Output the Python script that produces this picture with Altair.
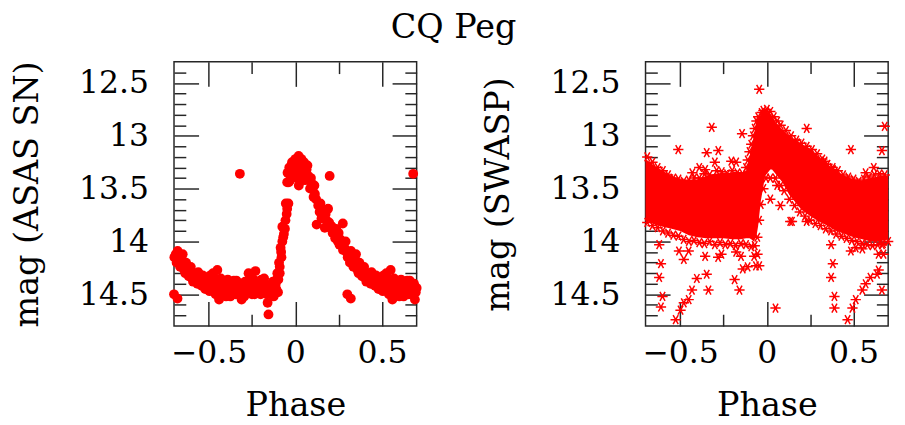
import altair as alt
import pandas as pd

FONT = "DejaVu Serif"
RED = "#ff0000"
INK = "#262626"
W, H = 247, 269
XDOM = [-0.7, 0.7]
YDOM = [12.3, 14.8]

x_major = [-0.5, 0.0, 0.5]
x_minor = [-0.25, 0.25]
y_major = [12.5, 13.0, 13.5, 14.0, 14.5]
y_minor = [12.4, 12.6, 12.7, 12.8, 12.9, 13.1, 13.2, 13.3, 13.4, 13.6, 13.7,
           13.8, 13.9, 14.1, 14.2, 14.3, 14.4, 14.6, 14.7]

# ASAS-SN phased photometry (one cycle, wrapped below to cover -0.7..0.7)
asas_phase = [-0.50, -0.49, -0.48, -0.47, -0.46, -0.45, -0.44, -0.44, -0.43, -0.42,
              -0.41, -0.40, -0.39, -0.38, -0.37, -0.36, -0.35, -0.34, -0.33, -0.32,
              -0.32, -0.31, -0.30, -0.29, -0.28, -0.27, -0.26, -0.25, -0.24, -0.23,
              -0.22, -0.21, -0.20, -0.19, -0.18, -0.17, -0.16, -0.155, -0.15, -0.14,
              -0.13, -0.12, -0.113, -0.104, -0.10, -0.094, -0.09, -0.085, -0.08, -0.075,
              -0.075, -0.066, -0.057, -0.047, -0.040, -0.047, -0.045, -0.038, -0.028, -0.019,
              -0.010, 0.000, 0.019, 0.010, 0.030, 0.038, 0.050, 0.057, 0.065, 0.075,
              0.085, 0.095, 0.105, 0.113, 0.123, 0.132, 0.140, 0.151, 0.160, 0.170,
              0.180, 0.189, 0.198, 0.205, 0.215, 0.227, 0.236, 0.246, 0.260, 0.274,
              0.283, 0.290, 0.302, 0.300, 0.320, 0.321, 0.330, 0.340, 0.350, 0.359,
              0.370, 0.380, 0.397, 0.405, 0.416, 0.430, 0.440, 0.453, 0.465, 0.475,
              0.491,
              -0.495, -0.485, -0.475, -0.465, -0.455, -0.435, -0.425, -0.415, -0.405, -0.395,
              -0.385, -0.375, -0.365, -0.355, -0.345, -0.335, -0.325, -0.315, -0.305, -0.295,
              -0.285, -0.275, -0.265, -0.255, -0.245, -0.235, -0.225, -0.215, -0.205, -0.195,
              -0.185, -0.175, -0.165, -0.145, -0.135, -0.125, -0.118, -0.108,
              -0.110, -0.098, -0.090, -0.082, -0.070, -0.060, -0.050, -0.055,
              -0.035, -0.030, -0.025, -0.015, -0.005, 0.005, 0.015, 0.025, 0.035, 0.040,
              0.020,
              0.045, 0.060, 0.070, 0.080, 0.090, 0.100, 0.110, 0.120, 0.145, 0.155,
              0.165, 0.175, 0.185, 0.195, 0.210, 0.220, 0.230, 0.240, 0.250, 0.255,
              0.265, 0.275, 0.295, 0.310, 0.315, 0.325, 0.335, 0.345, 0.355, 0.365,
              0.375, 0.385, 0.390, 0.410, 0.420, 0.435, 0.445, 0.460, 0.470, 0.480,
              0.485, 0.495]
asas_mag = [14.40, 14.32, 14.46, 14.38, 14.50, 14.27, 14.42, 14.55, 14.35, 14.47,
            14.40, 14.52, 14.36, 14.45, 14.40, 14.50, 14.42, 14.37, 14.47, 13.36,
            14.42, 14.55, 14.44, 14.38, 14.48, 14.30, 14.42, 14.50, 14.36, 14.28,
            14.45, 14.38, 14.50, 14.42, 14.35, 14.46, 14.58, 14.69, 14.42, 14.50,
            14.38, 14.46, 14.40, 14.30, 14.48, 14.20, 14.24, 14.06, 14.15, 14.00,
            13.86, 13.93, 13.80, 13.69, 13.64, 13.44, 13.35, 13.44, 13.38, 13.25,
            13.30, 13.22, 13.19, 13.40, 13.28, 13.35, 13.25, 13.42, 13.32, 13.38,
            13.50, 13.45, 13.58, 13.55, 13.84, 13.66, 13.72, 13.78, 13.70, 13.87,
            13.80, 13.69, 13.38, 13.85, 13.92, 13.93, 13.88, 14.00, 13.98, 13.83,
            14.06, 14.00, 14.15, 14.50, 14.54, 14.09, 14.16, 14.21, 14.12, 14.27,
            14.20, 14.28, 14.24, 14.35, 14.30, 14.38, 14.29, 14.37, 14.32, 14.42,
            14.34,
            14.47, 14.38, 14.30, 14.44, 14.36, 14.48, 14.38, 14.50, 14.44, 14.48,
            14.40, 14.52, 14.44, 14.37, 14.50, 14.43, 14.50, 14.40, 14.48, 14.52,
            14.42, 14.45, 14.36, 14.47, 14.42, 14.50, 14.40, 14.48, 14.44, 14.36,
            14.47, 14.40, 14.50, 14.45, 14.42, 14.52, 14.45, 14.36,
            14.45, 14.36, 14.30, 14.10, 13.96, 13.88, 13.74, 13.64,
            13.30, 13.42, 13.33, 13.36, 13.26, 13.33, 13.25, 13.36, 13.22, 13.42,
            13.47,
            13.30, 13.36, 13.28, 13.42, 13.40, 13.50, 13.47, 13.60, 13.64, 13.72,
            13.76, 13.74, 13.85, 13.82, 13.86, 13.90, 13.97, 13.95, 13.92, 14.03,
            14.02, 14.08, 14.10, 14.12, 14.20, 14.18, 14.24, 14.17, 14.22, 14.30,
            14.25, 14.33, 14.28, 14.38, 14.33, 14.40, 14.36, 14.42, 14.36, 14.45,
            14.38, 14.42]

# SWASP: envelope of the dense band of points
band_phase = [-0.70, -0.65, -0.60, -0.55, -0.50, -0.45, -0.40, -0.35, -0.30, -0.25,
              -0.20, -0.15, -0.12, -0.10, -0.09, -0.075, -0.06, -0.05, -0.035, -0.01,
              0.02, 0.03, 0.05, 0.09, 0.13, 0.20, 0.25, 0.30, 0.35, 0.40,
              0.45, 0.50, 0.55, 0.60, 0.65, 0.70]
band_top = [13.22, 13.28, 13.33, 13.38, 13.41, 13.42, 13.41, 13.38, 13.36, 13.35,
            13.35, 13.35, 13.33, 13.20, 13.12, 13.00, 12.86, 12.83, 12.80, 12.76,
            12.79, 12.81, 12.87, 12.94, 13.00, 13.08, 13.12, 13.20, 13.27, 13.33,
            13.38, 13.41, 13.42, 13.40, 13.38, 13.38]
band_bottom = [13.80, 13.84, 13.86, 13.88, 13.90, 13.94, 13.96, 13.97, 13.97, 13.97,
               13.98, 13.98, 13.97, 13.97, 13.98, 14.00, 13.95, 13.85, 13.62, 13.38,
               13.32, 13.32, 13.36, 13.44, 13.56, 13.70, 13.76, 13.81, 13.85, 13.90,
               13.93, 13.96, 13.98, 14.00, 14.00, 13.98]

# SWASP: individual points along the band edges and scattered outliers
swasp_phase = [-0.69, -0.66, -0.63, -0.60, -0.57, -0.54, -0.51, -0.48, -0.45, -0.42,
               -0.39, -0.36, -0.33, -0.29, -0.26, -0.23, -0.20, -0.17, -0.14, -0.12,
               -0.11, -0.10, -0.09, -0.08, -0.07, -0.06, -0.05, -0.03, -0.02, 0.00,
               0.02, 0.04, 0.06, 0.08, 0.11, 0.14, 0.17, 0.20, 0.23, 0.26,
               0.29, 0.32, 0.35, 0.38, 0.41, 0.44, 0.47, 0.50, 0.53, 0.56,
               0.59, 0.62, 0.65, 0.68,
               -0.69, -0.66, -0.63, -0.60, -0.57, -0.54, -0.51, -0.48, -0.45, -0.42,
               -0.39, -0.36, -0.33, -0.30, -0.27, -0.24, -0.21, -0.18, -0.15, -0.12,
               -0.09, -0.07, -0.055, -0.045, -0.035, -0.02, -0.005, 0.05, 0.08, 0.10,
               0.13, 0.16, 0.19, 0.22, 0.25, 0.28, 0.31, 0.34, 0.37, 0.40,
               0.43, 0.46, 0.49, 0.52, 0.55, 0.58, 0.61, 0.64, 0.67, 0.70,
               -0.044, -0.318, -0.143, -0.511, -0.347, -0.280, -0.300, -0.205, -0.177, -0.430,
               -0.356, -0.390, 0.230, 0.173, 0.485, 0.680, 0.664, 0.333, 0.381, 0.570,
               0.617, 0.020, 0.060, 0.020, 0.078, 0.135, 0.145, 0.230,
               0.050, -0.621, -0.611, -0.621, -0.602, -0.611, -0.526, -0.498, -0.479, -0.451,
               -0.432, -0.404, -0.347, -0.337, -0.186, -0.158, -0.139, -0.111, -0.063, -0.507,
               -0.451, -0.479, -0.356, -0.281, -0.262, -0.177, -0.149, -0.073, -0.044, -0.054,
               0.371, 0.381, 0.371, 0.390, 0.390, 0.466, 0.494, 0.513, 0.551, 0.570,
               0.598, 0.645, 0.664, 0.673, 0.485, 0.513, 0.551, 0.645, 0.664, 0.636]
swasp_mag = [13.20, 13.25, 13.30, 13.33, 13.37, 13.40, 13.41, 13.43, 13.42, 13.40,
             13.40, 13.36, 13.37, 13.33, 13.34, 13.36, 13.33, 13.35, 13.36, 13.30,
             13.23, 13.15, 13.08, 13.00, 12.93, 12.86, 12.82, 12.78, 12.76, 12.75,
             12.77, 12.82, 12.86, 12.90, 12.95, 13.00, 13.04, 13.07, 13.10, 13.13,
             13.17, 13.22, 13.27, 13.30, 13.33, 13.37, 13.39, 13.41, 13.43, 13.41,
             13.39, 13.37, 13.36, 13.37,
             13.82, 13.85, 13.87, 13.90, 13.92, 13.94, 13.95, 13.98, 14.00, 13.99,
             14.01, 14.02, 14.00, 14.03, 14.01, 14.03, 14.02, 14.04, 14.02, 14.03,
             14.05, 14.04, 13.96, 13.80, 13.65, 13.50, 13.40, 13.40, 13.47, 13.52,
             13.60, 13.66, 13.72, 13.76, 13.80, 13.83, 13.85, 13.88, 13.90, 13.93,
             13.95, 13.97, 13.99, 14.00, 14.02, 14.03, 14.04, 14.03, 14.02, 14.00,
             12.56, 12.92, 12.98, 13.13, 13.16, 13.14, 13.25, 13.24, 13.25, 13.35,
             13.32, 13.30, 12.93, 13.07, 13.13, 12.91, 13.14, 13.24, 13.32, 13.35,
             13.30, 13.40, 13.47, 13.60, 13.66, 13.81, 13.81, 13.81,
             14.63, 14.03, 14.21, 14.34, 14.52, 14.62, 14.74, 14.65, 14.58, 14.55,
             14.46, 14.35, 14.31, 14.46, 14.36, 14.46, 14.26, 14.24, 14.23, 14.09,
             14.09, 14.17, 14.14, 14.15, 14.12, 14.10, 14.14, 14.14, 14.23, 14.12,
             14.03, 14.21, 14.34, 14.52, 14.63, 14.74, 14.63, 14.55, 14.46, 14.40,
             14.34, 14.27, 14.46, 14.12, 14.09, 14.06, 14.07, 14.12, 14.03, 14.31]

# ---- tables -------------------------------------------------------------
asas = pd.DataFrame({"phase": asas_phase, "mag": asas_mag})
asas_all = pd.concat([
    asas,
    asas[asas.phase >= 0.3].assign(phase=lambda d: d.phase - 1.0),
    asas[asas.phase <= -0.3].assign(phase=lambda d: d.phase + 1.0),
], ignore_index=True)
band = pd.DataFrame({"phase": band_phase, "top": band_top, "bottom": band_bottom})
swasp = pd.DataFrame({"phase": swasp_phase, "mag": swasp_mag})

xscale = alt.Scale(domain=XDOM, nice=False, zero=False)
yscale = alt.Scale(domain=YDOM, reverse=True, nice=False, zero=False)

ASTERISK = "M-1,0L1,0M-0.5,-0.87L0.5,0.87M-0.5,0.87L0.5,-0.87"
LABEL_SIZE = 32
TITLE_SIZE = 34


def main_x():
    return alt.Axis(orient="bottom", values=x_major,
                    labelExpr="datum.value == 0 ? '0' : format(datum.value, '.1f')",
                    ticks=False, tickSize=0, domain=False, grid=False,
                    labelFont=FONT, labelFontSize=LABEL_SIZE, labelColor="black",
                    labelPadding=12, labelFlush=False, labelOverlap=False,
                    title="Phase", titleFont=FONT, titleFontSize=TITLE_SIZE,
                    titleFontWeight="normal", titleColor="black", titlePadding=21)


def main_y(title, title_pad):
    return alt.Axis(orient="left", values=y_major,
                    labelExpr="format(datum.value, '~g')",
                    ticks=False, tickSize=0, domain=False, grid=False,
                    labelFont=FONT, labelFontSize=LABEL_SIZE, labelColor="black",
                    labelPadding=26, labelFlush=False, labelOverlap=False,
                    title=title, titleFont=FONT, titleFontSize=TITLE_SIZE,
                    titleFontWeight="normal", titleColor="black", titlePadding=title_pad)


def tick_axis(orient, values, size, offset):
    return alt.Axis(orient=orient, offset=offset, values=values, tickSize=size,
                    ticks=True, labels=False, domain=False, grid=False, title=None,
                    tickColor=INK, tickWidth=1.5)


def tick_layers(data):
    specs = [("top", "right", x_major, y_major, 25),
             ("top", "right", x_minor, y_minor, 12),
             ("bottom", "left", x_major, y_major, 25),
             ("bottom", "left", x_minor, y_minor, 12)]
    out = []
    for xo, yo, xv, yv, s in specs:
        out.append(alt.Chart(data).mark_point(opacity=0).encode(
            x=alt.X("phase:Q", scale=xscale, axis=tick_axis(xo, xv, s, -H)),
            y=alt.Y("mag:Q", scale=yscale, axis=tick_axis(yo, yv, s, -W))))
    return out


left_pts = alt.Chart(asas_all).mark_circle(size=100, color=RED, opacity=1).encode(
    x=alt.X("phase:Q", scale=xscale, axis=main_x()),
    y=alt.Y("mag:Q", scale=yscale, axis=main_y("mag (ASAS SN)", 35)))

left = alt.layer(left_pts, *tick_layers(asas_all)).properties(
    width=W, height=H).resolve_axis(x="independent", y="independent")

band_layer = alt.Chart(band).mark_area(color=RED, opacity=1).encode(
    x=alt.X("phase:Q", scale=xscale, axis=main_x()),
    y=alt.Y("top:Q", scale=yscale, axis=main_y("mag (SWASP)", 35)),
    y2="bottom:Q")

star_layer = alt.Chart(swasp).mark_point(shape=ASTERISK, size=110, filled=False,
                                         color=RED, strokeWidth=1.5, opacity=1).encode(
    x=alt.X("phase:Q", scale=xscale, axis=None),
    y=alt.Y("mag:Q", scale=yscale, axis=None))

right = alt.layer(band_layer, star_layer, *tick_layers(swasp)).properties(
    width=W, height=H).resolve_axis(x="independent", y="independent")

chart = alt.hconcat(left, right, spacing=60).properties(
    title=alt.TitleParams("CQ Peg", font=FONT, fontSize=TITLE_SIZE, fontWeight="normal",
                          color="black", anchor="middle", offset=15),
    padding={"left": 2, "top": 0, "right": 0, "bottom": 0},
).configure_view(stroke=INK, strokeWidth=1.5)

chart.save("out.html", embed_options={"renderer": "svg", "actions": False})
